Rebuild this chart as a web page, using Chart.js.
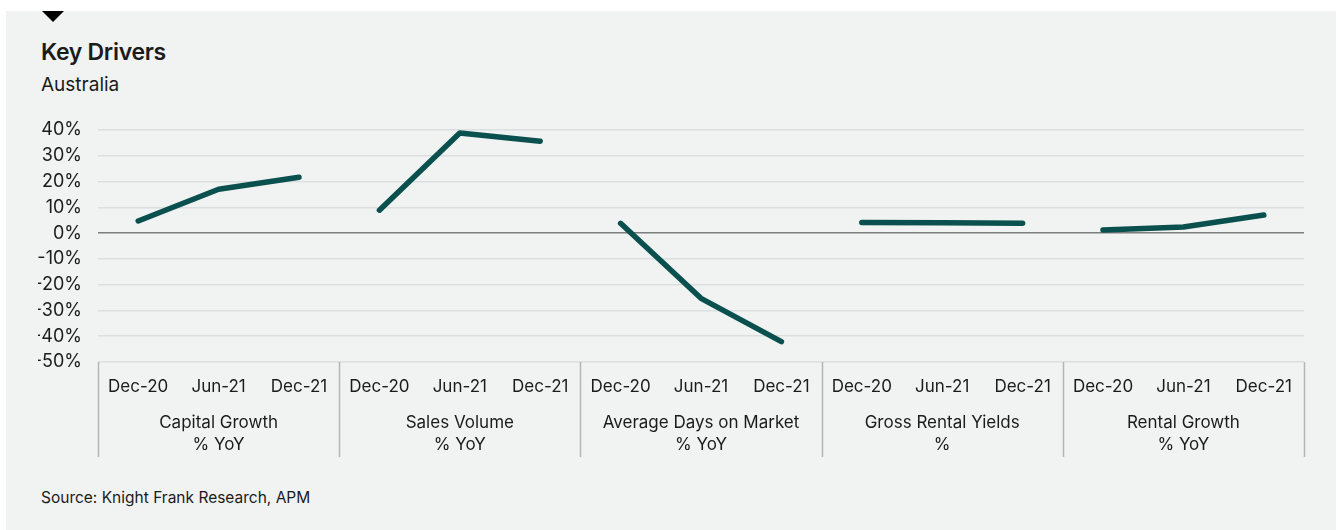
<!DOCTYPE html>
<html>
<head>
<meta charset="utf-8">
<script src="https://cdn.jsdelivr.net/npm/chart.js@4.4.1/dist/chart.umd.min.js"></script>
<style>
  html, body { margin: 0; padding: 0; background: #fff; }
  body { width: 1338px; height: 530px; position: relative; overflow: hidden; font-family: Inter, "Noto Sans", sans-serif; color: #1b1b1b; }
  #panel { position: absolute; left: 6px; top: 11px; width: 1330px; height: 519px; background: #f0f3f2; }
  #marker { position: absolute; left: 42px; top: 11px; width: 0; height: 0;
    border-left: 11.5px solid transparent; border-right: 11.5px solid transparent; border-top: 11px solid #000; }
  .txt { position: absolute; left: 41px; white-space: nowrap; line-height: 1; }
  #title { top: 41px; font-size: 23px; font-weight: 600; letter-spacing: -0.3px; }
  #subtitle { top: 75px; font-size: 19px; }
  #source { top: 490px; font-size: 15.5px; }
  #chart { position: absolute; left: 0; top: 0; }
</style>
</head>
<body>
<div id="panel"></div>
<div id="marker"></div>
<div class="txt" id="title">Key Drivers</div>
<div class="txt" id="subtitle">Australia</div>
<div class="txt" id="source">Source: Knight Frank Research, APM</div>
<canvas id="chart" width="1338" height="530"></canvas>
<script>
// Datos del gráfico
const periods = ['Dec-20', 'Jun-21', 'Dec-21'];
const groups = [
    ['Capital Growth', '% YoY'],
    ['Sales Volume', '% YoY'],
    ['Average Days on Market', '% YoY'],
    ['Gross Rental Yields', '%'],
    ['Rental Growth', '% YoY']
];
const capitalGrowth = [4.7, 17.0, 21.7];
const salesVolume = [8.9, 38.8, 35.6];
const daysOnMarket = [3.8, -25.3, -42.1];
const rentalYields = [4.1, 4.0, 3.8];
const rentalGrowth = [1.2, 2.4, 7.0];
const yTicks = [40, 30, 20, 10, 0, -10, -20, -30, -40, -50];

const seriesList = [capitalGrowth, salesVolume, daysOnMarket, rentalYields, rentalGrowth];
const lineColor = '#0a504e';

// 15 categorías: tres periodos por grupo
const labels = [];
groups.forEach(() => periods.forEach(p => labels.push(p)));

// Un dataset por grupo, con null fuera de su tramo
const datasets = seriesList.map((vals, g) => ({
    data: labels.map((_, i) => (Math.floor(i / 3) === g ? vals[i % 3] : null)),
    borderColor: lineColor,
    borderWidth: 5.5,
    borderCapStyle: 'round',
    borderJoinStyle: 'round',
    pointRadius: 0,
    spanGaps: false,
    tension: 0,
    xAxisID: 'x'
}));

// Separadores verticales entre grupos
const separators = {
    id: 'separators',
    afterDraw(chart) {
        const ctx = chart.ctx;
        const x = chart.scales.x;
        const top = chart.chartArea.bottom;
        const bottom = top + 95;
        const step = (x.getPixelForValue(1) - x.getPixelForValue(0));
        ctx.save();
        ctx.strokeStyle = '#b4b6b6';
        ctx.lineWidth = 1.5;
        for (let g = 0; g <= groups.length; g++) {
            const px = Math.round(x.getPixelForValue(g * 3) - step / 2) + 0.5;
            ctx.beginPath();
            ctx.moveTo(px, top);
            ctx.lineTo(px, bottom);
            ctx.stroke();
        }
        ctx.restore();
    }
};

const font = { family: 'Inter, "Noto Sans", sans-serif' };

new Chart(document.getElementById('chart'), {
    type: 'line',
    data: { labels: labels, datasets: datasets },
    options: {
        responsive: false,
        animation: false,
        layout: { padding: { left: 38, right: 34, top: 130, bottom: 68 } },
        plugins: { legend: { display: false }, tooltip: { enabled: false } },
        scales: {
            y: {
                min: -50,
                max: 40,
                afterFit(scale) { scale.width = 60; },
                afterBuildTicks(scale) { scale.ticks = yTicks.map(v => ({ value: v })); },
                border: { display: false },
                grid: {
                    drawTicks: false,
                    lineWidth: 1.5,
                    color: c => (c.tick && c.tick.value === 0 ? '#7c7e7e' : '#dcdfdf')
                },
                ticks: {
                    padding: 16,
                    color: '#1b1b1b',
                    font: { ...font, size: 18 },
                    callback: v => v + '%'
                }
            },
            x: {
                type: 'category',
                offset: true,
                weight: 0,
                afterFit(scale) { scale.height = 40; },
                border: { display: false },
                grid: { display: false, drawTicks: false },
                ticks: {
                    padding: 15,
                    maxRotation: 0,
                    autoSkip: false,
                    color: '#1b1b1b',
                    font: { ...font, size: 17 }
                }
            },
            x2: {
                type: 'category',
                position: 'bottom',
                labels: groups,
                offset: true,
                weight: 1,
                afterFit(scale) { scale.height = 60; },
                border: { display: false },
                grid: { display: false, drawTicks: false },
                ticks: {
                    padding: 10,
                    maxRotation: 0,
                    autoSkip: false,
                    color: '#1b1b1b',
                    font: { ...font, size: 17, lineHeight: 1.3 }
                }
            }
        }
    },
    plugins: [separators]
});
</script>
</body>
</html>
